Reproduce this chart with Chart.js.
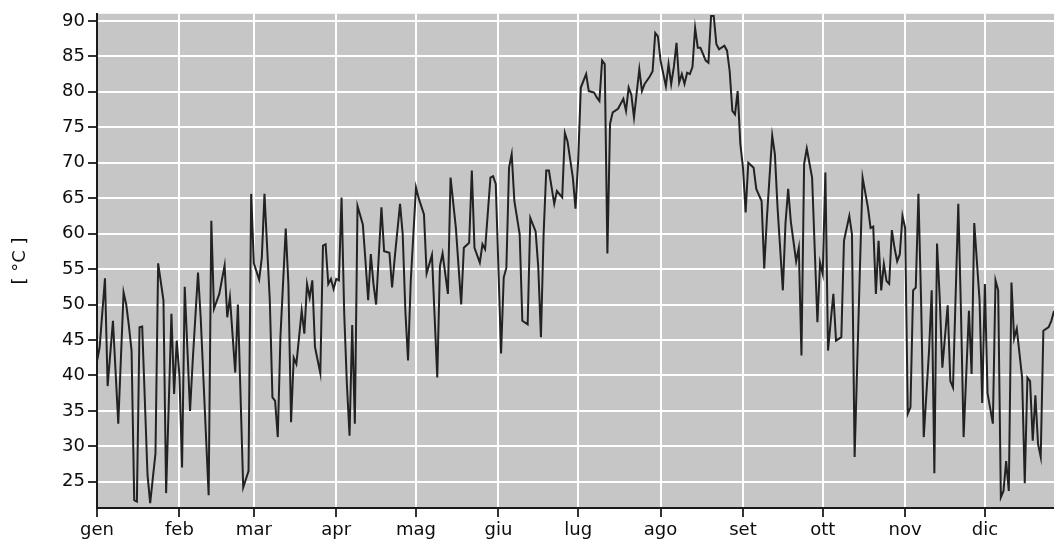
<!DOCTYPE html>
<html>
<head>
<meta charset="utf-8">
<script src="https://cdn.jsdelivr.net/npm/chart.js@4"></script>
<style>
  html, body { margin: 0; padding: 0; background: #fff; }
  #box { width: 1054px; height: 544px; }
</style>
</head>
<body>
<div id="box"><canvas id="temperatura"></canvas></div>
<script>
// giorno dell'anno (0 = 1 gennaio) e temperatura
const giorni = [
  0, 1, 3, 4, 6, 8, 10, 11, 12, 13, 14, 15, 16, 17, 19, 20, 21, 22, 23, 25,
  26, 28, 29, 30, 31, 32, 33, 35, 36, 38, 39, 42, 43, 44, 46, 48, 49, 50, 52, 53,
  55, 57, 58, 59, 61, 62, 63, 65, 66, 67, 68, 69, 71, 72, 73, 74, 75, 77, 78, 79,
  80, 81, 82, 84, 85, 86, 87, 88, 89, 90, 91, 92, 93, 94, 95, 96, 97, 98, 100, 101,
  102, 103, 104, 105, 107, 108, 110, 111, 112, 114, 115, 116, 117, 118, 120, 121, 123, 124, 126, 128,
  129, 130, 132, 133, 135, 137, 138, 140, 141, 142, 144, 145, 146, 148, 149, 150, 151, 152, 153, 154,
  155, 156, 157, 159, 160, 162, 163, 165, 166, 167, 168, 169, 170, 172, 173, 175, 176, 177, 179, 180,
  181, 182, 184, 185, 187, 188, 189, 190, 191, 192, 193, 194, 196, 198, 199, 200, 201, 202, 204, 205,
  206, 208, 209, 210, 211, 212, 214, 215, 216, 217, 218, 219, 220, 221, 222, 223, 224, 225, 226, 227,
  229, 230, 231, 232, 233, 234, 236, 237, 238, 239, 240, 241, 242, 243, 244, 245, 247, 248, 250, 251,
  252, 254, 255, 256, 258, 259, 260, 261, 263, 264, 265, 266, 267, 269, 271, 272, 273, 274, 275, 276,
  277, 278, 280, 281, 283, 284, 285, 287, 288, 290, 291, 292, 293, 294, 295, 296, 297, 298, 299, 300,
  301, 302, 303, 304, 305, 306, 307, 308, 309, 310, 311, 313, 314, 315, 316, 317, 318, 320, 321, 322,
  324, 325, 326, 328, 329, 330, 332, 333, 334, 335, 337, 338, 339, 340, 341, 342, 343, 344, 345, 346,
  348, 349, 350, 351, 352, 353, 354, 355, 356, 358, 359, 360
];
const temperature = [
  42, 44, 53.7, 38.5, 47.7, 33.2, 51.7, 50, 47, 43.5, 22.4, 22.2, 46.8, 46.9, 26, 22, 25.5, 29, 55.8, 50.6,
  23.4, 48.7, 37.4, 44.9, 40, 27, 52.5, 35, 42, 54.5, 48.2, 23.1, 61.8, 49.4, 51.5, 55.5, 48.2, 51, 40.4, 50,
  24.2, 26.5, 65.6, 55.8, 53.5, 56.6, 65.6, 50.6, 36.9, 36.4, 31.3, 45.4, 60.7, 52.9, 33.4, 42.5, 41.6, 49.1, 45.9, 52.9,
  51, 53.4, 44, 40.3, 58.3, 58.5, 52.9, 53.6, 52.2, 53.6, 53.4, 65.1, 48.7, 38.8, 31.5, 47.1, 33.2, 63.9, 61.3, 56.1,
  50.6, 57.1, 52.9, 50, 63.7, 57.5, 57.3, 52.4, 56.6, 64.2, 59.9, 49.1, 42.1, 53.1, 66.5, 65, 62.7, 54.4, 57, 39.7,
  55.4, 57.2, 51.5, 67.9, 60.8, 50, 58, 58.7, 68.9, 58, 55.9, 58.5, 57.8, 67.9, 68.1, 67, 55.2, 43.1, 53.8, 55.2,
  69.3, 71.2, 64.6, 59.9, 47.7, 47.2, 62.2, 60.3, 55.2, 45.4, 59.9, 68.9, 68.9, 64.2, 66, 65.1, 74.2, 73, 67.9, 63.5,
  70.3, 80.6, 82.5, 80.1, 79.9, 79.2, 78.7, 84.4, 83.9, 57.2, 75.5, 77.1, 77.6, 79, 77.3, 80.6, 79.6, 76.4, 83.2, 80.1,
  81.1, 82.2, 82.9, 88.3, 87.8, 84.4, 80.8, 83.9, 81.1, 83.5, 86.9, 81.3, 82.5, 81.1, 82.7, 82.5, 83.5, 89, 86.2, 86.2,
  84.4, 84.1, 90.7, 90.7, 86.7, 86, 86.5, 85.8, 82.9, 77.3, 76.8, 80.1, 72.7, 69.3, 63, 70, 69.3, 66.3, 64.6, 55.1,
  62.2, 73.8, 71.2, 63.7, 52, 61.5, 66.3, 61.7, 56.1, 58, 42.8, 69.8, 72, 67.9, 47.5, 55.9, 54.3, 68.6, 43.5, 47.6,
  51.5, 44.9, 45.4, 59, 62.5, 59.9, 28.5, 55.2, 67.9, 63.7, 60.8, 61, 51.5, 59, 52, 55.7, 53.3, 52.9, 60.5, 58,
  56.1, 57.1, 62.5, 60.8, 34.6, 35.5, 52, 52.4, 65.6, 50.6, 31.3, 43.5, 52, 26.2, 58.6, 51, 41.1, 49.9, 39.2, 38.3,
  64.2, 49.1, 31.3, 49.1, 40.2, 61.5, 50.6, 36.1, 52.9, 37.5, 33.2, 53.4, 52, 22.8, 23.7, 27.9, 23.7, 53.1, 45.2, 46.6,
  39.7, 24.8, 39.7, 39.2, 30.8, 37.2, 30.3, 28.5, 46.3, 46.8, 47.7, 49.1
];

const mesi = ['gen', 'feb', 'mar', 'apr', 'mag', 'giu', 'lug', 'ago', 'set', 'ott', 'nov', 'dic'];
const inizioMese = [0, 31, 59, 90, 120, 151, 181, 212, 243, 273, 304, 334];
const tickY = [25, 30, 35, 40, 45, 50, 55, 60, 65, 70, 75, 80, 85, 90];

const sfondo = {
  id: 'sfondo',
  beforeDraw(chart) {
    const a = chart.chartArea;
    const ctx = chart.ctx;
    ctx.save();
    ctx.fillStyle = '#c6c6c6';
    ctx.fillRect(a.left, a.top, a.right - a.left, a.bottom - a.top);
    ctx.restore();
  }
};

const font = { family: 'DejaVu Sans', size: 18 };

const ctx = document.getElementById('temperatura').getContext('2d');
const grafico = new Chart(ctx, {
  type: 'line',
  data: {
    datasets: [{
      data: giorni.map((g, i) => ({ x: g, y: temperature[i] })),
      borderColor: '#222222',
      borderWidth: 2,
      pointRadius: 0,
      tension: 0,
      fill: false
    }]
  },
  options: {
    responsive: true,
    maintainAspectRatio: false,
    animation: false,
    layout: { padding: { top: 13, right: 0, left: 0, bottom: 0 } },
    plugins: { legend: { display: false }, tooltip: { enabled: false } },
    scales: {
      x: {
        type: 'linear',
        min: 0,
        max: 360,
        afterBuildTicks: s => { s.ticks = inizioMese.map(v => ({ value: v })); },
        afterFit: s => { s.height = 36; },
        ticks: {
          autoSkip: false,
          maxRotation: 0,
          padding: 3,
          color: '#0d0d0d',
          font: font,
          callback: v => mesi[inizioMese.indexOf(v)]
        },
        grid: { color: '#ffffff', lineWidth: 2, tickColor: '#333', tickLength: 9 },
        border: { color: '#1a1a1a', width: 2 }
      },
      y: {
        min: 21.3,
        max: 91,
        afterBuildTicks: s => { s.ticks = tickY.map(v => ({ value: v })); },
        afterFit: s => { s.width = 97; },
        ticks: { padding: 3, color: '#0d0d0d', font: font },
        grid: { color: '#ffffff', lineWidth: 2, tickColor: '#333', tickLength: 9 },
        border: { color: '#1a1a1a', width: 2 },
        title: { display: true, text: '[ °C ]', color: '#0d0d0d', font: font, padding: { top: 10, bottom: 0 } }
      }
    }
  },
  plugins: [sfondo]
});
</script>
</body>
</html>
